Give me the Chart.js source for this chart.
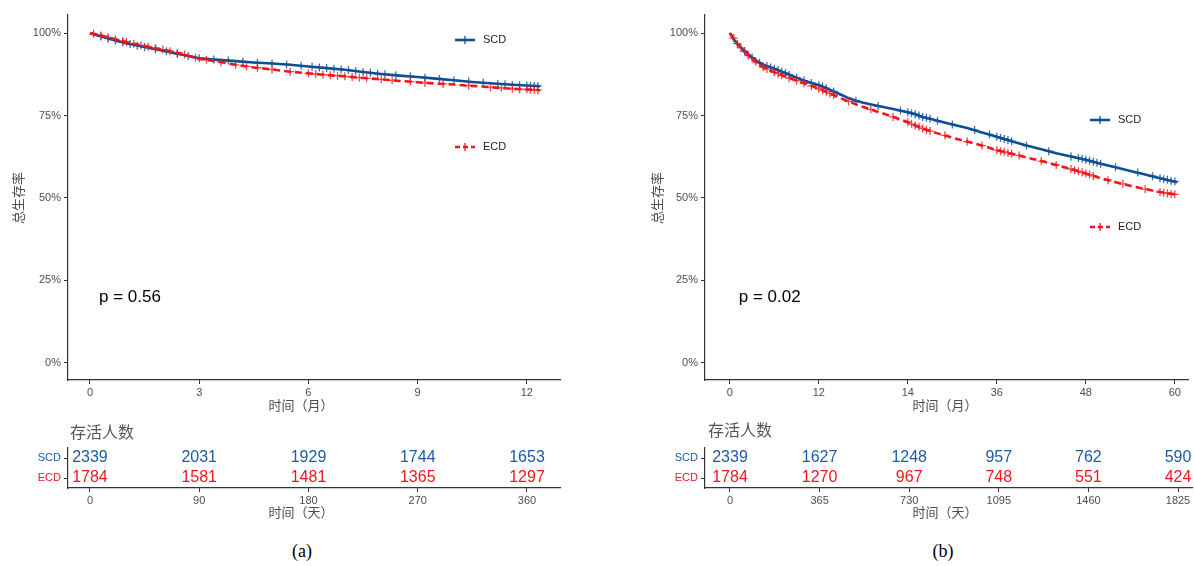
<!DOCTYPE html>
<html>
<head>
<meta charset="utf-8">
<script src="https://cdn.jsdelivr.net/npm/chart.js@4.4.1/dist/chart.umd.min.js"></script>
<style>
  body { margin: 0; width: 1194px; height: 566px; background: #fff; position: relative; overflow: hidden; }
  .box { position: absolute; }
  .cap { position: absolute; top: 541px; width: 40px; text-align: center; font-family: "Liberation Serif", "Times New Roman", serif; font-size: 18px; color: #000; }
</style>
</head>
<body>
<div class="box" style="left:0;top:0;width:597px;height:420px"><canvas id="kmA"></canvas></div>
<div class="box" style="left:597px;top:0;width:597px;height:420px"><canvas id="kmB"></canvas></div>
<div class="box" style="left:0;top:418px;width:597px;height:104px"><canvas id="riskA"></canvas></div>
<div class="box" style="left:597px;top:418px;width:597px;height:104px"><canvas id="riskB"></canvas></div>
<div class="cap" style="left:282px">(a)</div>
<div class="cap" style="left:923px">(b)</div>
<script>
// ---- 数据 ----
const groups = ['SCD', 'ECD'];

// (a) 12 个月
const monthTicksA = [0, 3, 6, 9, 12];
const monthLabelsA = ['0', '3', '6', '9', '12'];
const scdCurveA = [[0,100],[0.25,99.2],[0.5,98.4],[0.75,97.6],[1,96.9],[1.5,95.8],[2,94.7],[2.5,93.5],[3,92.4],[3.5,91.9],[4,91.5],[4.5,91.1],[5,90.8],[5.5,90.4],[6,89.9],[6.5,89.4],[7,88.9],[7.5,88.2],[8,87.6],[8.5,87.1],[9,86.7],[9.5,86.2],[10,85.7],[10.5,85.2],[11,84.8],[11.5,84.4],[12,84.1],[12.36,83.9]];
const ecdCurveA = [[0,100],[0.25,99.4],[0.5,98.7],[0.75,98.0],[1,97.3],[1.5,96.1],[2,95.0],[2.5,93.8],[3,92.2],[3.5,91.4],[4,90.4],[4.5,89.6],[5,89.0],[5.5,88.3],[6,87.8],[6.5,87.3],[7,86.9],[7.5,86.4],[8,86.0],[8.5,85.5],[9,85.1],[9.5,84.7],[10,84.4],[10.5,84.0],[11,83.6],[11.5,83.2],[12,82.9],[12.36,82.7]];
// 删失标记 [月, 生存率%]
const scdCensorA = [[0.3,99.0],[0.5,98.4],[0.7,97.8],[0.9,97.2],[1.1,96.7],[1.3,96.2],[1.5,95.8],[1.8,95.1],[2.1,94.5],[2.4,93.7],[2.7,93.1],[3.0,92.4],[3.4,92.0],[3.8,91.7],[4.2,91.3],[4.6,91.0],[5.0,90.8],[5.4,90.5],[5.8,90.1],[6.1,89.8],[6.3,89.6],[6.5,89.4],[6.7,89.2],[6.9,89.0],[7.1,88.8],[7.3,88.5],[7.5,88.2],[7.7,88.0],[7.9,87.7],[8.1,87.5],[8.4,87.2],[8.8,86.9],[9.2,86.5],[9.6,86.1],[10.0,85.7],[10.4,85.3],[10.8,85.0],[11.2,84.6],[11.4,84.5],[11.6,84.3],[11.8,84.2],[12.0,84.1],[12.1,84.0],[12.2,84.0],[12.3,83.9]];
const ecdCensorA = [[0.1,99.8],[0.3,99.3],[0.5,98.7],[0.7,98.1],[0.9,97.6],[1.0,97.3],[1.2,96.8],[1.4,96.3],[1.6,95.9],[1.8,95.4],[2.0,95.0],[2.2,94.5],[2.4,94.0],[2.6,93.5],[2.9,92.5],[3.2,91.9],[3.6,91.2],[4.0,90.4],[4.3,89.9],[4.6,89.5],[5.0,89.0],[5.5,88.3],[6.0,87.8],[6.2,87.6],[6.4,87.4],[6.6,87.2],[6.8,87.1],[7.0,86.9],[7.2,86.7],[7.4,86.5],[7.6,86.3],[8.0,86.0],[8.3,85.7],[8.8,85.3],[9.2,84.9],[9.7,84.6],[10.4,84.1],[11.0,83.6],[11.3,83.4],[11.6,83.1],[11.8,83.0],[12.0,82.9],[12.1,82.8],[12.2,82.8],[12.3,82.7]];
const riskDaysA = [0, 90, 180, 270, 360];
const scdRiskA = [2339, 2031, 1929, 1744, 1653];
const ecdRiskA = [1784, 1581, 1481, 1365, 1297];
const pTextA = 'p = 0.56';

// (b) 60 个月
const monthTicksB = [0, 12, 24, 36, 48, 60];
const monthLabelsB = ['0', '12', '14', '36', '48', '60'];
const scdCurveB = [[0,100],[0.5,98.2],[1,96.8],[1.5,95.6],[2,94.5],[3,92.6],[4,91.0],[5,90.0],[6,89.2],[7,88.3],[8,87.4],[9,86.5],[10,85.6],[11,84.9],[12,84.2],[13,83.3],[14,82.3],[15,81.3],[16,80.3],[17,79.5],[18,78.9],[20,77.9],[22,77.0],[24,76.0],[25,75.4],[26,74.6],[27,74.0],[28,73.4],[30,72.3],[32,71.2],[34,69.9],[36,68.6],[38,67.2],[40,65.9],[42,64.8],[44,63.6],[46,62.6],[48,61.6],[50,60.4],[52,59.3],[54,58.2],[56,57.1],[58,56.0],[60.3,54.8]];
const ecdCurveB = [[0,100],[0.5,98.5],[1,96.9],[1.5,95.5],[2,94.2],[3,92.2],[4,90.3],[5,89.1],[6,88.1],[7,87.2],[8,86.4],[9,85.6],[10,84.8],[11,84.0],[12,83.1],[13,82.2],[14,81.2],[15,80.2],[16,79.3],[17,78.4],[18,77.6],[20,76.1],[22,74.6],[24,73.0],[25,72.0],[26,71.1],[27,70.3],[28,69.6],[30,68.3],[32,67.1],[34,65.9],[36,64.5],[38,63.4],[40,62.3],[42,61.2],[44,60.0],[46,58.8],[48,57.4],[50,56.0],[52,54.8],[54,53.7],[56,52.7],[58,51.8],[60.3,51.0]];
const scdCensorB = [[1,96.8],[2,94.5],[3,92.6],[4,91.0],[5,90.0],[5.5,89.6],[6,89.2],[6.5,88.8],[7,88.3],[7.5,87.9],[8,87.4],[9,86.5],[10,85.6],[11,84.9],[12,84.2],[12.5,83.8],[13,83.3],[14,82.3],[17,79.5],[20,77.9],[23,76.5],[24,76.0],[24.5,75.7],[25,75.4],[25.5,75.0],[26,74.6],[26.5,74.3],[27,74.0],[28,73.4],[30,72.3],[33,70.6],[35,69.3],[36,68.6],[36.5,68.3],[37,67.9],[37.5,67.6],[38,67.2],[40,65.9],[43,64.2],[46,62.6],[47,62.1],[47.5,61.9],[48,61.6],[48.5,61.3],[49,61.0],[49.5,60.7],[50,60.4],[52,59.3],[55,57.7],[57,56.6],[58,56.0],[58.5,55.7],[59,55.5],[59.5,55.2],[60,55.0]];
const ecdCensorB = [[0.5,98.5],[1.5,95.5],[2.5,93.2],[3.5,91.3],[4.5,89.7],[5,89.1],[6,88.1],[6.5,87.7],[7,87.2],[8,86.4],[9,85.6],[10,84.8],[11,84.0],[12,83.1],[12.5,82.7],[13,82.2],[13.5,81.7],[14,81.2],[16,79.3],[19,76.9],[22,74.6],[24,73.0],[24.5,72.5],[25,72.0],[25.5,71.6],[26,71.1],[26.5,70.7],[27,70.3],[29,69.0],[32,67.1],[34,65.9],[36,64.5],[36.5,64.2],[37,64.0],[37.5,63.7],[38,63.4],[39,62.9],[42,61.2],[44,60.0],[46,58.8],[46.5,58.4],[47,58.1],[47.5,57.8],[48,57.4],[48.5,57.1],[49,56.7],[51,55.4],[53,54.3],[56,52.7],[58,51.8],[58.5,51.6],[59,51.4],[59.5,51.2],[60,51.1]];
const riskDaysB = [0, 365, 730, 1095, 1460, 1825];
const scdRiskB = [2339, 1627, 1248, 957, 762, 590];
const ecdRiskB = [1784, 1270, 967, 748, 551, 424];
const pTextB = 'p = 0.02';

const survTicks = [0, 25, 50, 75, 100];

// ---- 样式 ----
const BLUE = '#0d4f96';
const BLUE_TXT = '#1c5ca6';
const RED = '#f2151b';
const GREY = '#4d4d4d';
const AXIS = '#333333';
const SANS = '"Liberation Sans", Arial, sans-serif';
const CJK = '"Noto Sans CJK SC", sans-serif';

function toPoints(pairs) {
  return pairs.map(([x, y]) => ({ x, y }));
}

function axisStyle() {
  return {
    border: { display: true, color: AXIS, width: 1.2 },
    grid: { display: true, drawOnChartArea: false, drawTicks: true, tickLength: 4, color: AXIS, lineWidth: 1 },
  };
}

// 图例、p 值、坐标轴标题
const kmDecor = {
  id: 'kmDecor',
  afterDatasetsDraw(chart, args, o) {
    const { ctx, scales } = chart;
    ctx.save();
    // p 值
    ctx.fillStyle = '#000';
    ctx.font = '17px ' + SANS;
    ctx.textAlign = 'left';
    ctx.textBaseline = 'middle';
    ctx.fillText(o.pText, scales.x.getPixelForValue(o.pX), scales.y.getPixelForValue(20));

    // 图例
    o.legend.forEach(item => {
      const x0 = item.x, y0 = item.y;
      ctx.strokeStyle = item.color;
      ctx.lineWidth = 2.6;
      ctx.setLineDash(item.dash);
      ctx.beginPath();
      ctx.moveTo(x0, y0);
      ctx.lineTo(x0 + 20, y0);
      ctx.stroke();
      ctx.setLineDash([]);
      ctx.lineWidth = 1.3;
      ctx.beginPath();
      ctx.moveTo(x0 + 10, y0 - 4);
      ctx.lineTo(x0 + 10, y0 + 4);
      ctx.stroke();
      ctx.fillStyle = '#222';
      ctx.font = '11px ' + SANS;
      ctx.textAlign = 'left';
      ctx.fillText(item.label, x0 + 28, y0);
    });

    // 坐标轴标题
    ctx.fillStyle = GREY;
    ctx.font = '13px ' + CJK;
    ctx.textAlign = 'center';
    ctx.fillText('时间（月）', o.xTitleX, 405);
    ctx.translate(o.yTitleX, 198);
    ctx.rotate(-Math.PI / 2);
    ctx.fillText('总生存率', 0, 0);
    ctx.restore();
  }
};

function makeKm(id, cfg) {
  new Chart(document.getElementById(id), {
    type: 'scatter',
    data: {
      datasets: [
        { label: 'ECD', data: toPoints(cfg.ecd), showLine: true, borderColor: RED, borderWidth: 2.6, borderDash: [7, 4], pointRadius: 0 },
        { label: 'ECD+', data: toPoints(cfg.ecdCensor), showLine: false, pointStyle: 'cross', pointRadius: 4, pointBorderWidth: 1.3, pointBorderColor: 'rgba(242,21,27,0.8)' },
        { label: 'SCD', data: toPoints(cfg.scd), showLine: true, borderColor: BLUE, borderWidth: 2.6, pointRadius: 0 },
        { label: 'SCD+', data: toPoints(cfg.scdCensor), showLine: false, pointStyle: 'cross', pointRadius: 4, pointBorderWidth: 1.3, pointBorderColor: 'rgba(13,79,150,0.8)' }
      ]
    },
    options: {
      responsive: true,
      maintainAspectRatio: false,
      animation: false,
      layout: { padding: { top: 15, right: cfg.padRight, left: 0, bottom: 0 } },
      plugins: {
        legend: { display: false },
        tooltip: { enabled: false },
        kmDecor: cfg.decor
      },
      scales: {
        x: {
          type: 'linear',
          min: cfg.xMin,
          max: cfg.xMax,
          ...axisStyle(),
          afterFit: s => { s.height = 40; },
          afterBuildTicks: s => { s.ticks = cfg.ticks.map(v => ({ value: v })); },
          ticks: {
            color: GREY, padding: 2, font: { size: 11, family: SANS },
            callback: (v) => cfg.labels[cfg.ticks.indexOf(v)]
          }
        },
        y: {
          type: 'linear',
          min: -5.2,
          max: 105.5,
          ...axisStyle(),
          afterFit: s => { s.width = cfg.yWidth; },
          afterBuildTicks: s => { s.ticks = survTicks.map(v => ({ value: v })); },
          ticks: { color: GREY, padding: 3, font: { size: 11, family: SANS }, callback: v => v + '%' }
        }
      }
    },
    plugins: [kmDecor]
  });
}

// 风险表数字
const riskNumbers = {
  id: 'riskNumbers',
  afterDatasetsDraw(chart, args, o) {
    const { ctx, scales } = chart;
    ctx.save();
    ctx.font = '16px ' + SANS;
    ctx.textAlign = 'center';
    ctx.textBaseline = 'middle';
    o.rows.forEach((row, r) => {
      ctx.fillStyle = row.color;
      row.values.forEach((n, i) => {
        ctx.fillText(String(n), scales.x.getPixelForValue(o.days[i]), scales.y.getPixelForValue(r));
      });
    });
    ctx.fillStyle = '#555';
    ctx.font = '16px ' + CJK;
    ctx.textAlign = 'left';
    ctx.fillText('存活人数', o.titleX, o.titleY);
    ctx.fillStyle = GREY;
    ctx.font = '13px ' + CJK;
    ctx.textAlign = 'center';
    ctx.fillText('时间（天）', o.xTitleX, 94);
    ctx.restore();
  }
};

function makeRisk(id, cfg) {
  new Chart(document.getElementById(id), {
    type: 'scatter',
    data: {
      datasets: [
        { data: cfg.days.map(d => ({ x: d, y: 'SCD' })), pointRadius: 0 },
        { data: cfg.days.map(d => ({ x: d, y: 'ECD' })), pointRadius: 0 }
      ]
    },
    options: {
      responsive: true,
      maintainAspectRatio: false,
      animation: false,
      layout: { padding: { top: 30, right: cfg.padRight, left: 0, bottom: 0 } },
      plugins: {
        legend: { display: false },
        tooltip: { enabled: false },
        riskNumbers: {
          days: cfg.days,
          rows: [{ color: BLUE_TXT, values: cfg.scd }, { color: RED, values: cfg.ecd }],
          titleX: cfg.titleX, titleY: cfg.titleY, xTitleX: cfg.xTitleX
        }
      },
      scales: {
        x: {
          type: 'linear',
          min: cfg.xMin,
          max: cfg.xMax,
          ...axisStyle(),
          afterFit: s => { s.height = 34; },
          afterBuildTicks: s => { s.ticks = cfg.days.map(v => ({ value: v })); },
          ticks: { color: GREY, padding: 2, font: { size: 11, family: SANS }, callback: v => String(v) }
        },
        y: {
          type: 'category',
          labels: groups,
          offset: true,
          ...axisStyle(),
          afterFit: s => { s.width = cfg.yWidth; },
          ticks: {
            padding: 3, font: { size: 11, family: SANS },
            color: c => (c.index === 0 ? BLUE_TXT : RED)
          }
        }
      }
    },
    plugins: [riskNumbers]
  });
}

makeKm('kmA', {
  scd: scdCurveA, ecd: ecdCurveA, scdCensor: scdCensorA, ecdCensor: ecdCensorA,
  ticks: monthTicksA, labels: monthLabelsA,
  xMin: -0.604, xMax: 12.91, yWidth: 68, padRight: 37,
  decor: {
    pText: pTextA, pX: 12.36 / 50, xTitleX: 301, yTitleX: 18,
    legend: [
      { label: 'SCD', color: BLUE, dash: [], x: 455, y: 40 },
      { label: 'ECD', color: RED, dash: [5, 3], x: 455, y: 147 }
    ]
  }
});

makeKm('kmB', {
  scd: scdCurveB, ecd: ecdCurveB, scdCensor: scdCensorB, ecdCensor: ecdCensorB,
  ticks: monthTicksB, labels: monthLabelsB,
  xMin: -3.35, xMax: 61.87, yWidth: 108, padRight: 2,
  decor: {
    pText: pTextB, pX: 60.3 / 50, xTitleX: 945 - 597, yTitleX: 657 - 597,
    legend: [
      { label: 'SCD', color: BLUE, dash: [], x: 1090 - 597, y: 120 },
      { label: 'ECD', color: RED, dash: [5, 3], x: 1090 - 597, y: 227 }
    ]
  }
});

makeRisk('riskA', {
  days: riskDaysA, scd: scdRiskA, ecd: ecdRiskA,
  xMin: -18.1, xMax: 387.2, yWidth: 68, padRight: 37,
  titleX: 70, titleY: 14, xTitleX: 301
});

makeRisk('riskB', {
  days: riskDaysB, scd: scdRiskB, ecd: ecdRiskB,
  xMin: -101.8, xMax: 1882, yWidth: 108, padRight: 2,
  titleX: 708 - 597, titleY: 12, xTitleX: 945 - 597
});
</script>
</body>
</html>
